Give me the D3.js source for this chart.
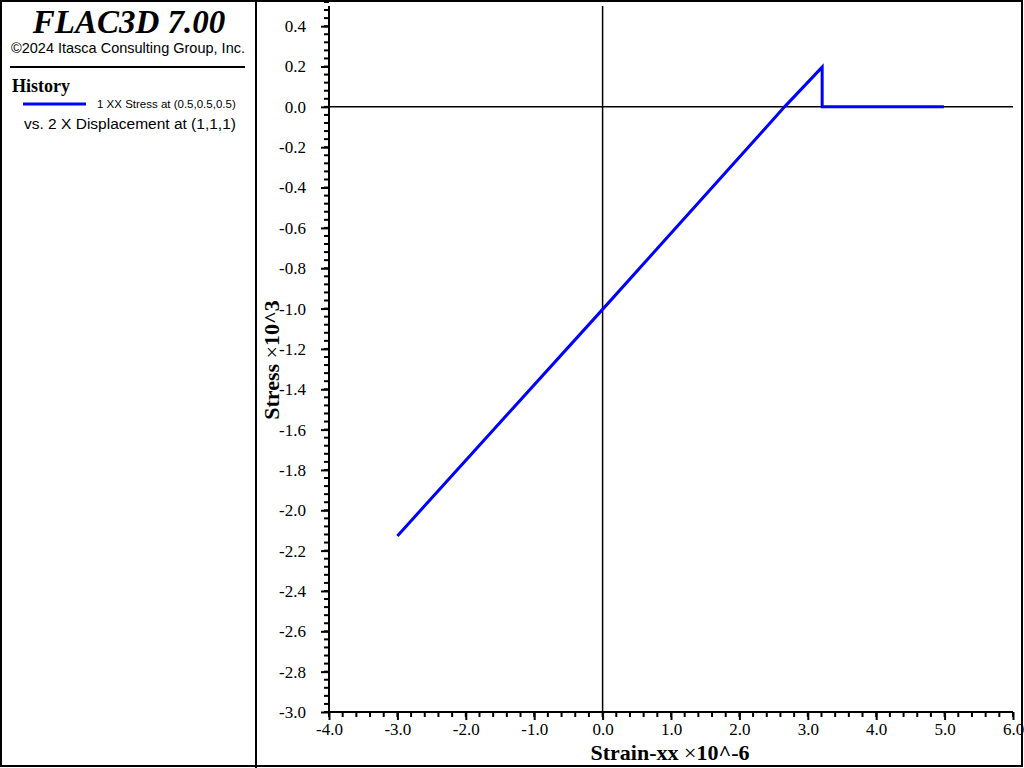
<!DOCTYPE html>
<html><head><meta charset="utf-8">
<script src="https://cdn.jsdelivr.net/npm/d3@7"></script>
<style>body{margin:0;background:#fff}svg{display:block}
.ax text{font-family:"Liberation Serif","Times New Roman",serif !important;font-size:17px}
</style>
</head><body>
<svg id="c" width="1024" height="768"></svg>
<script>
// Data
const strainX = [-3.0, 0.0, 2.66, 3.21, 3.21, 4.99];
const stressY = [-2.127, -1.004, 0.0, 0.197, 0.0, 0.0];
const xTicks = [-4, -3, -2, -1, 0, 1, 2, 3, 4, 5, 6];
const yTicks = [0.4, 0.2, 0.0, -0.2, -0.4, -0.6, -0.8, -1.0, -1.2, -1.4, -1.6, -1.8, -2.0, -2.2, -2.4, -2.6, -2.8, -3.0];
const xDomain = [-4, 6];
const yDomain = [-3.0, 0.5];

const svg = d3.select("#c");
const serif = "'Liberation Serif','Times New Roman',serif";
const sans = "'Liberation Sans',Arial,sans-serif";

// Frame
svg.append("rect").attr("x",1).attr("y",1).attr("width",1021).attr("height",765)
  .attr("fill","none").attr("stroke","#000").attr("stroke-width",2);
svg.append("line").attr("x1",256).attr("x2",256).attr("y1",0).attr("y2",768)
  .attr("stroke","#000").attr("stroke-width",2);

// Left panel
svg.append("text").attr("x",129).attr("y",33).attr("text-anchor","middle")
  .style("font-family",serif).style("font-style","italic").style("font-weight","bold").style("font-size","33px").text("FLAC3D 7.00");
svg.append("text").attr("x",128).attr("y",53).attr("text-anchor","middle")
  .style("font-family",sans).style("font-size","14.5px").text("©2024 Itasca Consulting Group, Inc.");
svg.append("line").attr("x1",10).attr("x2",245).attr("y1",67).attr("y2",67)
  .attr("stroke","#000").attr("stroke-width",2);
svg.append("text").attr("x",12).attr("y",92).style("font-family",serif).style("font-weight","bold")
  .style("font-size","18px").text("History");
svg.append("line").attr("x1",23).attr("x2",86).attr("y1",104).attr("y2",104)
  .attr("stroke","#0000ff").attr("stroke-width",3);
svg.append("text").attr("x",97).attr("y",108).style("font-family",sans).style("font-size","11.5px")
  .text("1 XX Stress at (0.5,0.5,0.5)");
svg.append("text").attr("x",24).attr("y",129).style("font-family",sans).style("font-size","15.5px")
  .text("vs. 2 X Displacement at (1,1,1)");

// Scales
const x = d3.scaleLinear().domain(xDomain).range([329, 1013]);
const y = d3.scaleLinear().domain(yDomain).range([712, 6]);

// Minor ticks
const xMinor = d3.range(xDomain[0]*5, xDomain[1]*5+1).map(v=>v/5);
const yMinor = d3.range(yDomain[0]*25, yDomain[1]*25+1).map(v=>v/25);
const fmt = d => d3.format(".1f")(d).replace("−","-");

const gx = svg.append("g").attr("class","ax").attr("transform","translate(0,712)");
gx.selectAll("line.mn").data(xMinor).join("line").attr("class","mn")
  .attr("x1",d=>x(d)).attr("x2",d=>x(d)).attr("y1",0).attr("y2",5)
  .attr("stroke","#000").attr("stroke-width",2);
gx.call(d3.axisBottom(x).tickValues(xTicks).tickSize(8).tickFormat(fmt).tickPadding(3));
gx.attr("font-family",serif).attr("font-size",17);
gx.select(".domain").attr("stroke-width",2).attr("d","M"+x(xDomain[0])+",0H"+x(xDomain[1]));
gx.selectAll(".tick line").attr("stroke-width",2);
gx.selectAll(".tick text").attr("fill","#000");

const gy = svg.append("g").attr("class","ax").attr("transform","translate(329,0)");
gy.selectAll("line.mn").data(yMinor).join("line").attr("class","mn")
  .attr("y1",d=>y(d)).attr("y2",d=>y(d)).attr("x1",0).attr("x2",-5)
  .attr("stroke","#000").attr("stroke-width",2);
gy.call(d3.axisLeft(y).tickValues(yTicks).tickSize(8).tickFormat(fmt).tickPadding(15));
gy.attr("font-family",serif).attr("font-size",17);
gy.select(".domain").attr("stroke-width",2).attr("d","M0,"+y(yDomain[1])+"V"+y(yDomain[0]));
gy.selectAll(".tick line").attr("stroke-width",2);
gy.selectAll(".tick text").attr("fill","#000");

// Zero lines
svg.append("line").attr("x1",x(0)).attr("x2",x(0)).attr("y1",y(yDomain[1])).attr("y2",y(yDomain[0]))
  .attr("stroke","#000").attr("stroke-width",1.5);
svg.append("line").attr("x1",x(xDomain[0])).attr("x2",x(xDomain[1])).attr("y1",y(0)).attr("y2",y(0))
  .attr("stroke","#000").attr("stroke-width",1.5);

// Data line
const pts = strainX.map((v,i)=>[v, stressY[i]]);
svg.append("path").datum(pts)
  .attr("d", d3.line().x(d=>x(d[0])).y(d=>y(d[1])))
  .attr("fill","none").attr("stroke","#0000ff").attr("stroke-width",3);

// Axis titles
const xt = svg.append("text").attr("x",670).attr("y",760).attr("text-anchor","middle")
  .style("font-family",serif).style("font-size","22px");
xt.append("tspan").style("font-weight","bold").text("Strain-xx ");
xt.append("tspan").text("×");
xt.append("tspan").style("font-weight","bold").text("10^-6");

const yt = svg.append("text").attr("transform","translate(279,360) rotate(-90)").attr("text-anchor","middle")
  .style("font-family",serif).style("font-size","22px");
yt.append("tspan").style("font-weight","bold").text("Stress ");
yt.append("tspan").text("×");
yt.append("tspan").style("font-weight","bold").text("10^3");
</script>
</body></html>
